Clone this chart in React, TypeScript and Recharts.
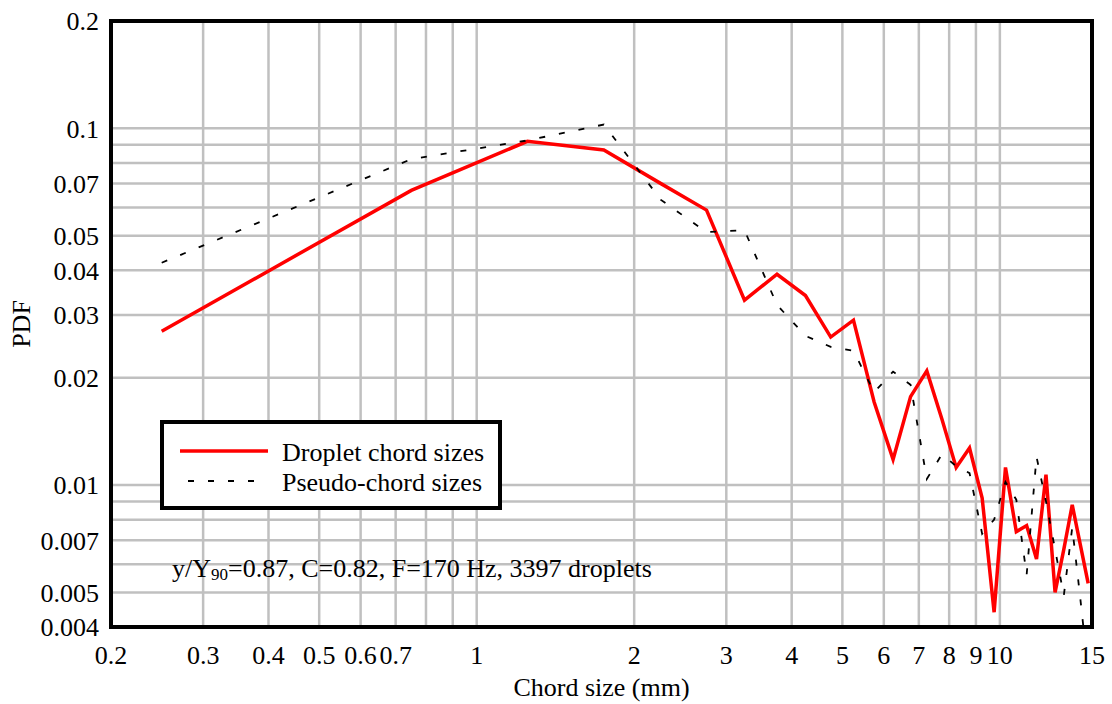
import { LineChart, Line, XAxis, YAxis, ReferenceLine, ReferenceArea, Legend } from 'recharts';

// bin centres of the 0.5 mm chord-size classes
const chordSize = [
  0.25, 0.75, 1.25, 1.75, 2.25, 2.75, 3.25, 3.75, 4.25, 4.75,
  5.25, 5.75, 6.25, 6.75, 7.25, 7.75, 8.25, 8.75, 9.25, 9.75,
  10.25, 10.75, 11.25, 11.75, 12.25, 12.75, 13.25, 13.75, 14.25, 14.75,
];

const dropletPdf = [
  0.027, 0.067, 0.092, 0.087, 0.07, 0.059, 0.033, 0.039, 0.034, 0.026,
  0.029, 0.0171, 0.0118, 0.0177, 0.0209, 0.0153, 0.0112, 0.0127, 0.0092, 0.0044,
  0.0112, 0.0074, 0.0077, 0.0062, 0.0107, 0.005, 0.0066, 0.0088, 0.0068, 0.0053,
];

const pseudoPdf = [
  0.042, 0.082, 0.0925, 0.1025, 0.063, 0.0512, 0.0518, 0.032, 0.0262, 0.0244,
  0.0238, 0.0182, 0.0208, 0.0191, 0.0104, 0.0122, 0.0113, 0.0108, 0.0073, 0.008,
  0.0102, 0.0091, 0.0056, 0.012, 0.009, 0.0066, 0.0049, 0.0076, 0.0048, 0.003,
];

const xTicks = [0.2, 0.3, 0.4, 0.5, 0.6, 0.7, 1, 2, 3, 4, 5, 6, 7, 8, 9, 10, 15];
const yTicks = [0.004, 0.005, 0.007, 0.01, 0.02, 0.03, 0.04, 0.05, 0.07, 0.1, 0.2];

const xGrid = [0.3, 0.4, 0.5, 0.6, 0.7, 0.8, 0.9, 1, 2, 3, 4, 5, 6, 7, 8, 9, 10];
const yGrid = [
  0.005, 0.006, 0.007, 0.008, 0.009, 0.01, 0.02, 0.03, 0.04,
  0.05, 0.06, 0.07, 0.08, 0.09, 0.1,
];

const FONT = '"Liberation Serif", "Times New Roman", serif';
const GRID = '#c0c0c0';

const data = chordSize.map((size, i) => ({
  size,
  droplet: dropletPdf[i],
  pseudo: pseudoPdf[i],
}));

function PdfLabel({ viewBox }: any) {
  const cy = viewBox ? viewBox.y + viewBox.height / 2 : 324;
  return (
    <text
      x={30}
      y={cy}
      transform={`rotate(-90 30 ${cy})`}
      textAnchor="middle"
      fontFamily={FONT}
      fontSize={26}
      fill="#000"
    >
      PDF
    </text>
  );
}

function LegendBox({ payload }: any) {
  const items = payload ?? [];
  return (
    <svg width={342} height={90} style={{ display: 'block' }}>
      <rect x={2} y={2} width={338} height={86} fill="#fff" stroke="#000" strokeWidth={4} />
      {items.map((entry: any, i: number) => {
        const y = 31 + i * 30;
        const dash = entry.payload?.strokeDasharray;
        return (
          <g key={entry.value}>
            <line
              x1={dash ? 28 : 20}
              x2={108}
              y1={y}
              y2={y}
              stroke={entry.color}
              strokeWidth={dash ? 1.8 : 3.5}
              strokeDasharray={dash}
            />
            <text x={122} y={y + 10} fontFamily={FONT} fontSize={26} fill="#000">
              {entry.value}
            </text>
          </g>
        );
      })}
    </svg>
  );
}

export default function App() {
  const tick = { fontFamily: FONT, fontSize: 26, fill: '#000' };

  return (
    <div
      style={{
        position: 'absolute',
        left: 0,
        top: 0,
        width: 1112,
        height: 704,
        background: '#fff',
        fontFamily: FONT,
      }}
    >
      <LineChart
        width={1112}
        height={704}
        data={data}
        margin={{ top: 21, right: 20, left: 0, bottom: 0 }}
      >
        {xGrid.map((v) => (
          <ReferenceLine key={`gx-${v}`} x={v} stroke={GRID} strokeWidth={2.5} zIndex={-100} />
        ))}
        {yGrid.map((v) => (
          <ReferenceLine key={`gy-${v}`} y={v} stroke={GRID} strokeWidth={2.5} zIndex={-100} />
        ))}

        <XAxis
          dataKey="size"
          type="number"
          scale="log"
          domain={[0.2, 15]}
          ticks={xTicks}
          interval={0}
          allowDataOverflow
          axisLine={false}
          tickLine={false}
          tickSize={0}
          tickMargin={19}
          height={77}
          tick={tick}
          label={{
            value: 'Chord size (mm)',
            position: 'insideBottom',
            offset: 8,
            style: { fontFamily: FONT, fontSize: 26, fill: '#000' },
          }}
        />
        <YAxis
          type="number"
          scale="log"
          domain={[0.004, 0.2]}
          ticks={yTicks}
          interval={0}
          allowDataOverflow
          axisLine={false}
          tickLine={false}
          tickSize={0}
          tickMargin={12}
          width={111}
          tick={tick}
          label={{ content: <PdfLabel /> }}
        />

        <Line
          name="Droplet chord sizes"
          dataKey="droplet"
          type="linear"
          stroke="#ff0000"
          strokeWidth={3.5}
          dot={false}
          activeDot={false}
          isAnimationActive={false}
        />
        <Line
          name="Pseudo-chord sizes"
          dataKey="pseudo"
          type="linear"
          stroke="#000"
          strokeWidth={1.8}
          strokeDasharray="6 14"
          dot={false}
          activeDot={false}
          isAnimationActive={false}
        />

        <ReferenceArea
          x1={0.2}
          x2={15}
          y1={0.004}
          y2={0.2}
          fill="none"
          stroke="#000"
          strokeWidth={4}
          zIndex={1000}
        />

        <Legend
          layout="vertical"
          verticalAlign="middle"
          align="center"
          wrapperStyle={{ left: 160, top: 420, width: 342, height: 90 }}
          content={<LegendBox />}
        />
      </LineChart>

      <svg
        width={1112}
        height={704}
        style={{ position: 'absolute', left: 0, top: 0, pointerEvents: 'none' }}
      >
        <text x={172} y={577} fontFamily={FONT} fontSize={26} fill="#000">
          y/Y
          <tspan fontSize={17} dy={3}>90</tspan>
          <tspan dy={-3}>=0.87, C=0.82, F=170 Hz, 3397 droplets</tspan>
        </text>
      </svg>
    </div>
  );
}
